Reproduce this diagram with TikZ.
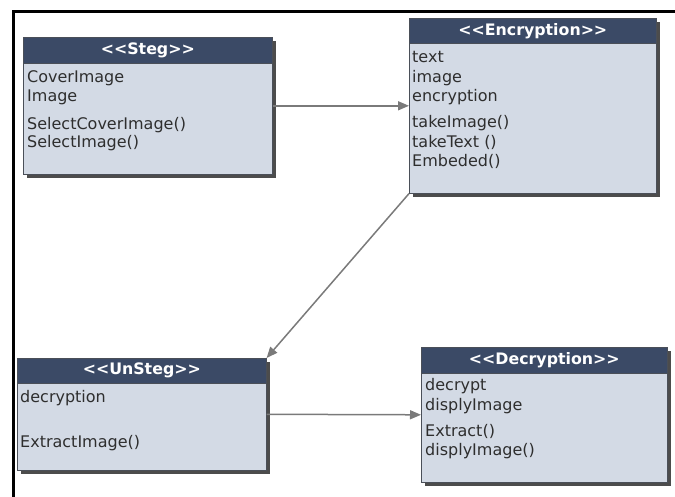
\documentclass[tikz,border=0pt]{standalone}
\usepackage{fontspec}
\setmainfont{DejaVu Sans}
\usetikzlibrary{arrows.meta,shadows}

\definecolor{headblue}{HTML}{3B4A66}
\definecolor{bodyblue}{HTML}{D3DAE5}
\definecolor{edgegray}{HTML}{4A4F58}
\definecolor{linkgray}{HTML}{7A7A7A}

% <<name>> without the << and >> ligatures
\newcommand{\stereo}[1]{<\kern0pt<#1>\kern0pt>}

\tikzset{
  classbox/.style={draw=edgegray, line width=0.6pt, fill=bodyblue, anchor=north west,
    inner sep=0pt,
    drop shadow={shadow xshift=3.5pt, shadow yshift=-3.5pt, fill=black!78, opacity=0.9}},
  classhead/.style={draw=edgegray, line width=0.6pt, fill=headblue, anchor=north west,
    inner sep=0pt, text=white, font=\fontsize{15.8}{18}\selectfont\bfseries},
  member/.style={anchor=base west, inner sep=0pt, text=black!82,
    font=\fontsize{16}{19}\selectfont},
  link/.style={draw=linkgray, line width=1.5pt,
    -{Triangle[length=11pt,width=9pt]}},
}

\begin{document}
\begin{tikzpicture}[x=1pt,y=-1pt]
\useasboundingbox (0,0) rectangle (675,497);

% outer frame (top and left edges)
\draw[line width=3pt] (13.5,497) -- (13.5,11.5) -- (675,11.5);

% Steg
\node[classbox, minimum width=249pt, minimum height=137pt] (steg) at (23,37) {};
\node[classhead, minimum width=249pt, minimum height=26pt] (steghead) at (steg.north west) {\stereo{Steg}};
\node[member] (steg1) at (27,83) {CoverImage};
\node[member] (steg2) at (27,102) {Image};
\node[member] (steg3) at (27,130) {SelectCoverImage()};
\node[member] (steg4) at (27,148) {SelectImage()};

% Encryption
\node[classbox, minimum width=247pt, minimum height=175pt] (enc) at (409,18) {};
\node[classhead, minimum width=247pt, minimum height=25pt] (enchead) at (enc.north west) {\stereo{Encryption}};
\node[member] (enc1) at (412,63) {text};
\node[member] (enc2) at (412,83) {image};
\node[member] (enc3) at (412,102) {encryption};
\node[member] (enc4) at (412,128) {takeImage()};
\node[member] (enc5) at (412,148) {takeText ()};
\node[member] (enc6) at (412,167) {Embeded()};

% UnSteg
\node[classbox, minimum width=249pt, minimum height=112pt] (unsteg) at (17,358) {};
\node[classhead, minimum width=249pt, minimum height=25pt] (unsteghead) at (unsteg.north west) {\stereo{UnSteg}};
\node[member] (unsteg1) at (20,402) {decryption};
\node[member] (unsteg2) at (20,447) {ExtractImage()};

% Decryption
\node[classbox, minimum width=246pt, minimum height=135pt] (dec) at (421,347) {};
\node[classhead, minimum width=246pt, minimum height=26pt] (dechead) at (dec.north west) {\stereo{Decryption}};
\node[member] (dec1) at (425,390) {decrypt};
\node[member] (dec2) at (425,410) {displyImage};
\node[member] (dec3) at (425,436) {Extract()};
\node[member] (dec4) at (425,455) {displyImage()};

% associations
\draw[link] (steg.east) -- (enc.west);
\draw[link] (enc.south west) -- (unsteg.north east);
\draw[link] (unsteg.east) -- (dec.west);
\end{tikzpicture}
\end{document}
